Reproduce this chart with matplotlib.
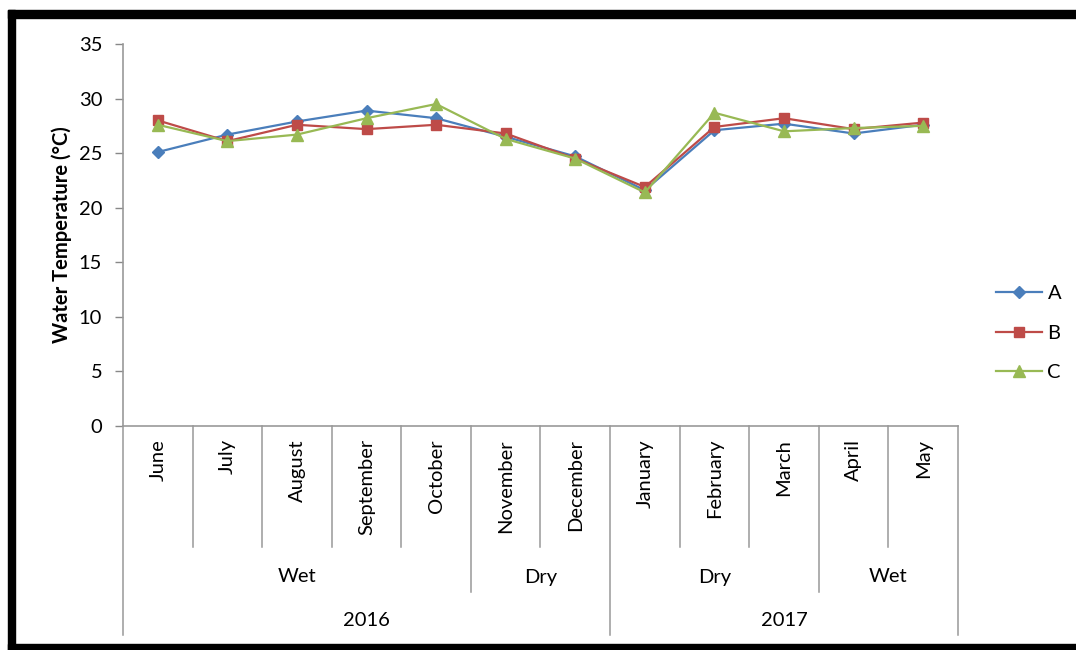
import matplotlib.pyplot as plt
from matplotlib.patches import Rectangle
import matplotlib.transforms as mtransforms

plt.rcParams['font.family'] = ['Lato', 'DejaVu Sans']

months = ['June', 'July', 'August', 'September', 'October', 'November',
          'December', 'January', 'February', 'March', 'April', 'May']
seasons = [('Wet', 0, 4), ('Dry', 5, 6), ('Dry', 7, 9), ('Wet', 10, 11)]
years = [('2016', 0, 6), ('2017', 7, 11)]

site_a = [25.1, 26.7, 27.9, 28.9, 28.2, 26.5, 24.7, 21.6, 27.1, 27.7, 26.8, 27.6]
site_b = [28.0, 26.1, 27.6, 27.2, 27.6, 26.8, 24.5, 21.9, 27.4, 28.2, 27.2, 27.8]
site_c = [27.6, 26.1, 26.7, 28.2, 29.5, 26.3, 24.5, 21.4, 28.7, 27.0, 27.3, 27.5]

W, H = 1076, 650
fig = plt.figure(figsize=(W / 100, H / 100), dpi=100)

# axes box in pixels: x 123..958, y 44..426
x0, x1, y0, y1 = 123, 958, 44, 426
ax = fig.add_axes([x0 / W, (H - y1) / H, (x1 - x0) / W, (y1 - y0) / H])

x = list(range(len(months)))
ax.plot(x, site_a, color='#4A7EBB', lw=1.6, marker='D', ms=6.5, label='A')
ax.plot(x, site_b, color='#BE4B48', lw=1.6, marker='s', ms=7.5, label='B')
ax.plot(x, site_c, color='#98B954', lw=1.6, marker='^', ms=8, label='C')

ax.set_xlim(-0.5, len(months) - 0.5)
ax.set_ylim(0, 35)
ax.set_yticks(range(0, 36, 5))
ax.tick_params(axis='y', length=6, width=1, color='#888888', labelsize=14.5, pad=9)
ax.set_xticks([])
for s in ['top', 'right']:
    ax.spines[s].set_visible(False)
for s in ['left', 'bottom']:
    ax.spines[s].set_color('#999999')
    ax.spines[s].set_linewidth(1.2)

ax.set_ylabel('Water Temperature (°C)', fontsize=14.5, fontweight='bold', labelpad=5)

# multi-level category axis
trans = mtransforms.blended_transform_factory(ax.transData, ax.transAxes)
axh = y1 - y0
def fy(py):
    return (y1 - py) / axh

sep_kw = dict(color='#999999', lw=1.1, transform=trans, clip_on=False)
for i, m in enumerate(months):
    ax.text(i, fy(439), m, rotation=90, ha='center', va='top', fontsize=14.5,
            transform=trans)
for i in range(len(months) + 1):
    xs = i - 0.5
    if i in (0, 7, 12):
        bottom = 635
    elif i in (5, 10):
        bottom = 592
    else:
        bottom = 547
    ax.plot([xs, xs], [0, fy(bottom)], **sep_kw)

for name, a, b in seasons:
    ax.text((a + b) / 2, fy(577), name, ha='center', va='center', fontsize=14.5,
            transform=trans)
for name, a, b in years:
    ax.text((a + b) / 2, fy(620), name, ha='center', va='center', fontsize=14.5,
            transform=trans)

fig.legend(loc='center left', bbox_to_anchor=(978 / W, (H - 333) / H),
           frameon=False, fontsize=14.5, handlelength=2.3, handletextpad=0.25,
           labelspacing=1.1)

# black frame around the figure
for px, py, pw, ph in [(8, 10, W - 8, 8), (8, 10, 7, H - 10), (8, 644, W - 8, 6)]:
    fig.patches.append(Rectangle((px / W, (H - py - ph) / H), pw / W, ph / H,
                                 transform=fig.transFigure, color='black', zorder=10))

fig.savefig('out.png', dpi=100)
